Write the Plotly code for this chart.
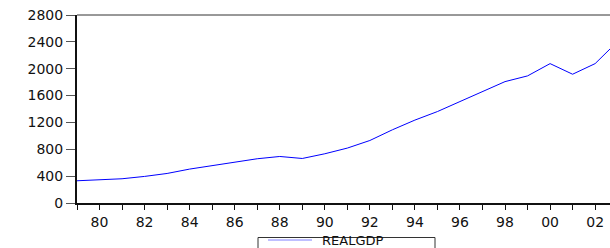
import plotly.graph_objects as go

years = list(range(1979, 2004))
realgdp = [331, 346, 361, 396, 440, 505, 560, 604, 659, 693, 663, 733, 818, 931,
           1090, 1235, 1362, 1511, 1660, 1808, 1893, 2076, 1918, 2076, 2406]
tick_years = list(range(1979, 2004))
tick_labels = [f"{y % 100:02d}" if y % 2 == 0 else "" for y in tick_years]
y_ticks = [0, 400, 800, 1200, 1600, 2000, 2400, 2800]
series_name = "REALGDP"

font_family = "DejaVu Sans"

W, H = 610, 248
L, R, T, B = 77, 0, 15, 45
pw, ph = W - L - R, H - T - B


def px_x(px):
    return (px - L) / pw


def px_y(py):
    return (H - B - py) / ph


fig = go.Figure()
fig.add_trace(go.Scatter(
    x=years, y=realgdp, mode="lines", name=series_name,
    line=dict(color="#0000FF", width=1), showlegend=False,
))

fig.update_layout(
    width=W, height=H,
    margin=dict(l=L, r=R, t=T, b=B),
    paper_bgcolor="white", plot_bgcolor="white",
    font=dict(family=font_family, size=14, color="#111111"),
    showlegend=False,
    xaxis=dict(
        range=[1979, 2002.66],
        tickvals=tick_years, ticktext=tick_labels,
        ticks="outside", ticklen=5, tickwidth=1, tickcolor="#111111",
        showline=True, linewidth=2, linecolor="#111111",
        showgrid=False, zeroline=False,
    ),
    yaxis=dict(
        range=[0, 2800],
        tickvals=y_ticks,
        ticks="outside", ticklen=9, tickwidth=1, tickcolor="#555555",
        showline=True, linewidth=2, linecolor="#111111",
        showgrid=False, zeroline=False,
    ),
    shapes=[
        dict(type="line", xref="paper", yref="paper", x0=0, x1=1, y0=1, y1=1,
             line=dict(color="#333333", width=1)),
        # legend box
        dict(type="rect", xref="paper", yref="paper",
             x0=px_x(258), x1=px_x(435), y0=px_y(237.5), y1=px_y(255),
             line=dict(color="#333333", width=1), fillcolor="white"),
        # legend sample line
        dict(type="line", xref="paper", yref="paper",
             x0=px_x(268), x1=px_x(312), y0=px_y(240), y1=px_y(240),
             line=dict(color="#8080FF", width=1)),
    ],
    annotations=[
        dict(text=series_name, xref="paper", yref="paper",
             x=px_x(321), y=px_y(240), xanchor="left", yanchor="middle",
             showarrow=False, borderpad=0,
             font=dict(family=font_family, size=13, color="#111111")),
    ],
)

fig.write_html("out.html", config={"displayModeBar": False},
               post_script="document.body.style.margin='0';document.body.style.overflow='hidden';")
